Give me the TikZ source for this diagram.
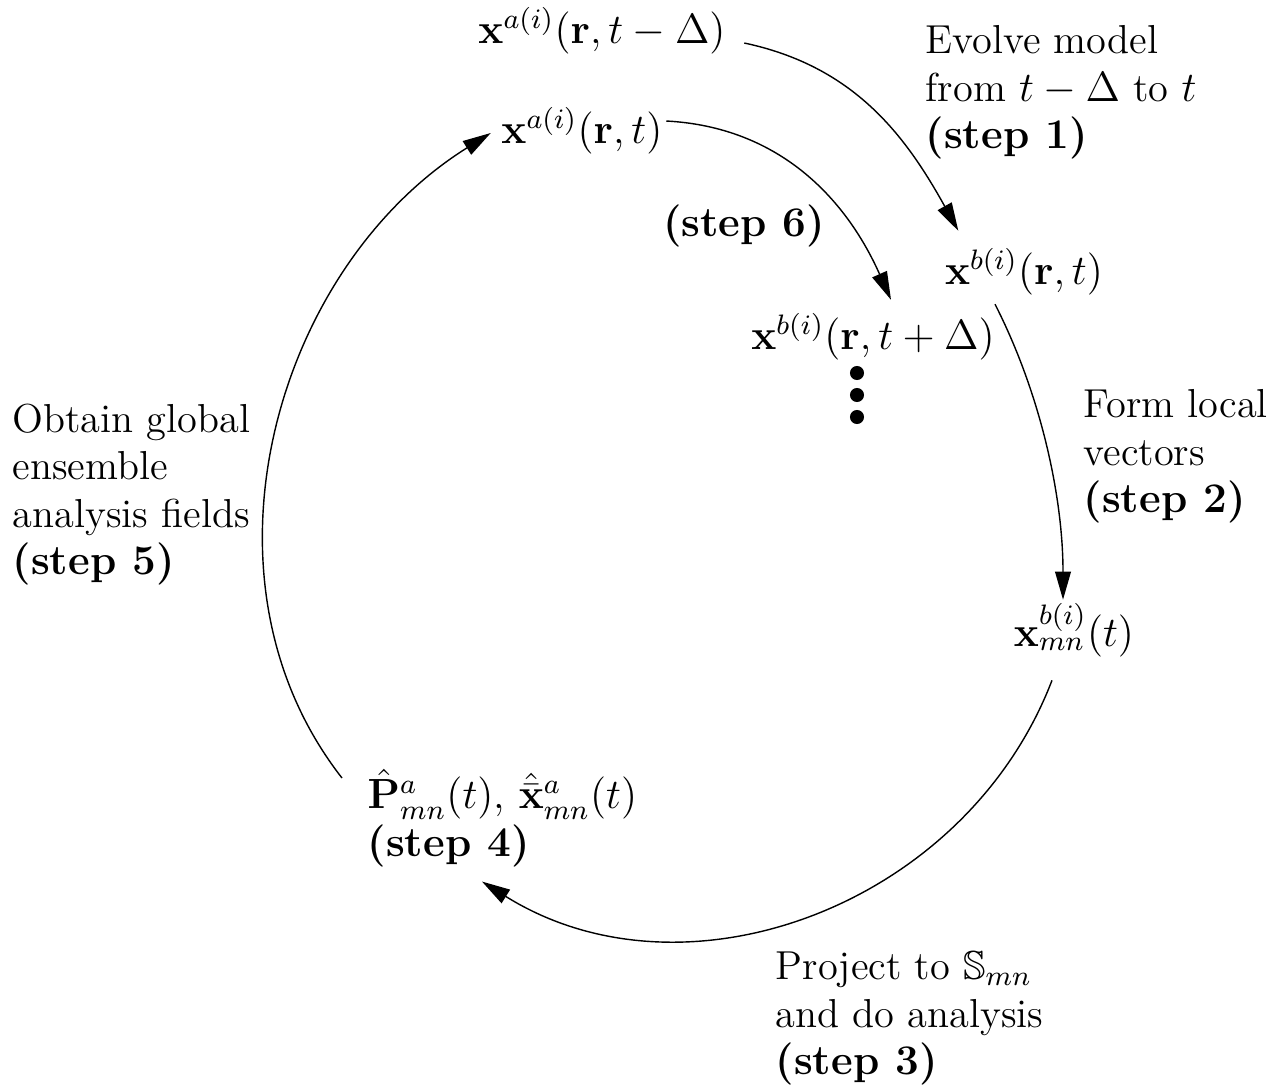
\documentclass[tikz,border=0pt]{standalone}
\usepackage{amsmath,amssymb}
\usetikzlibrary{arrows.meta}

\newcommand{\steplabel}[1]{{\fontsize{12}{13.5}\selectfont\bfseries (step #1)}}

\begin{document}
\begin{tikzpicture}[x=0.01cm, y=0.01cm,
    state/.style={inner sep=0pt, font=\fontsize{12}{13.5}\selectfont},
    note/.style={inner sep=0pt, align=left, anchor=north west,
      font=\fontsize{11.5}{13.5}\selectfont},
    arr/.style={-{Triangle[length=8pt,width=4.5pt]}, line width=0.4pt},
    blob/.style={circle, fill=black, inner sep=0pt, minimum size=4pt}
  ]
  \useasboundingbox (0,0) rectangle (1285,-1087);

  % --- States of the cycle ---
  \node[state] (xa1) at (602,-31)  {$\mathbf{x}^{a(i)}(\mathbf{r},t-\Delta)$};
  \node[state] (xa0) at (582,-131) {$\mathbf{x}^{a(i)}(\mathbf{r},t)$};
  \node[state] (xb0) at (1024,-272) {$\mathbf{x}^{b(i)}(\mathbf{r},t)$};
  \node[state] (xb1) at (873,-337) {$\mathbf{x}^{b(i)}(\mathbf{r},t+\Delta)$};
  \node[state] (xmn) at (1074,-630) {$\mathbf{x}^{b(i)}_{mn}(t)$};
  \node[note, font=\fontsize{12}{13.5}\selectfont] (xan) at (367,-768)
    {$\hat{\mathbf{P}}^a_{mn}(t)$, $\hat{\bar{\mathbf{x}}}^a_{mn}(t)$\\ \steplabel{4}};

  % --- Continuation dots ---
  \foreach \k/\yy in {1/373, 2/395, 3/417}
    \node[blob] (dot\k) at (857,-\yy) {};

  % --- Step labels ---
  \node[note]  (lab1) at (925,-25)  {Evolve model\\ from $t-\Delta$ to $t$\\ \steplabel{1}};
  \node[state] (lab6) at (744,-226) {\steplabel{6}};
  \node[note]  (lab2) at (1083,-389) {Form local\\ vectors\\ \steplabel{2}};
  \node[note]  (lab5) at (12,-403)  {Obtain global\\ ensemble\\ analysis fields\\ \steplabel{5}};
  \node[note]  (lab3) at (775,-951) {Project to $\mathbb{S}_{mn}$\\ and do analysis\\ \steplabel{3}};

  % --- Arrows ---
  \draw[arr] ([shift={(18,-12)}]xa1.east) to[out=-12,in=119]
    ([shift={(14,17)}]xb0.north west);
  \draw[arr] ([shift={(3,10)}]xa0.east) to[out=-3,in=114]
    ([shift={(18,13)}]xb1.north);
  \draw[arr] ([shift={(-29,-8)}]xb0.south) to[out=-63,in=90,looseness=0.86]
    ([shift={(-11,3)}]xmn.north);
  \draw[arr] ([shift={(-22,-23)}]xmn.south) to[out=-111,in=-32,looseness=1.02]
    ([shift={(115,-14)}]xan.south west);
  \draw[arr] ([shift={(-25,-10)}]xan.north west) to[out=128,in=212,looseness=0.98]
    ([shift={(-10,-2)}]xa0.west);
\end{tikzpicture}
\end{document}
